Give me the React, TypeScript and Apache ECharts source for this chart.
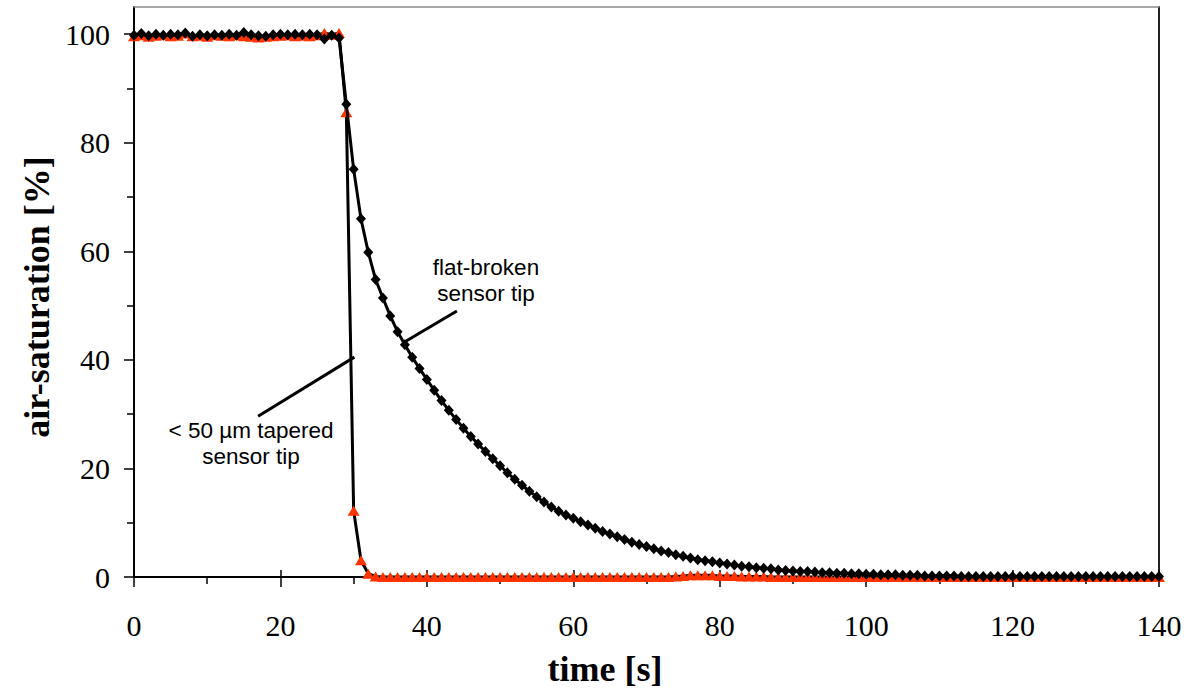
import React, { useEffect, useRef } from "react";
import * as echarts from "echarts";

const TIME = [
  0, 1, 2, 3, 4, 5, 6, 7, 8, 9,
  10, 11, 12, 13, 14, 15, 16, 17, 18, 19,
  20, 21, 22, 23, 24, 25, 26, 27, 28, 29,
  30, 31, 32, 33, 34, 35, 36, 37, 38, 39,
  40, 41, 42, 43, 44, 45, 46, 47, 48, 49,
  50, 51, 52, 53, 54, 55, 56, 57, 58, 59,
  60, 61, 62, 63, 64, 65, 66, 67, 68, 69,
  70, 71, 72, 73, 74, 75, 76, 77, 78, 79,
  80, 81, 82, 83, 84, 85, 86, 87, 88, 89,
  90, 91, 92, 93, 94, 95, 96, 97, 98, 99,
  100, 101, 102, 103, 104, 105, 106, 107, 108, 109,
  110, 111, 112, 113, 114, 115, 116, 117, 118, 119,
  120, 121, 122, 123, 124, 125, 126, 127, 128, 129,
  130, 131, 132, 133, 134, 135, 136, 137, 138, 139,
  140,
];

// flat-broken sensor tip (black diamonds)
const FLAT_BROKEN = [
  99.8, 100.1, 99.7, 100.0, 99.8, 100.0, 99.9, 100.2, 99.6, 99.9,
  99.7, 99.9, 99.8, 100.0, 99.8, 100.3, 99.9, 99.7, 99.6, 99.9,
  100.0, 99.9, 100.0, 99.9, 100.0, 99.9, 99.1, 99.8, 99.3, 87.1,
  75.1, 66.0, 59.8, 54.8, 51.4, 48.1, 45.2, 42.8, 40.5, 38.4,
  36.4, 34.4, 32.5, 30.7, 29.0, 27.4, 25.9, 24.5, 23.1, 21.8,
  20.5, 19.2, 18.0, 16.9, 15.8, 14.8, 13.8, 12.9, 12.1, 11.4,
  10.8, 10.2, 9.6, 9.0, 8.4, 7.9, 7.4, 6.9, 6.4, 6.0,
  5.6, 5.2, 4.8, 4.5, 4.1, 3.8, 3.5, 3.2, 3.0, 2.8,
  2.6, 2.4, 2.2, 2.0, 1.9, 1.7, 1.6, 1.5, 1.3, 1.2,
  1.1, 1.0, 1.0, 0.9, 0.8, 0.8, 0.7, 0.7, 0.6, 0.6,
  0.5, 0.5, 0.4, 0.4, 0.4, 0.3, 0.3, 0.3, 0.2, 0.2,
  0.2, 0.2, 0.2, 0.1, 0.1, 0.1, 0.1, 0.1, 0.1, 0.1,
  0.1, 0.1, 0.1, 0.1, 0.1, 0.1, 0.1, 0.1, 0.1, 0.1,
  0.1, 0.1, 0.1, 0.1, 0.1, 0.1, 0.1, 0.1, 0.1, 0.1,
  0.1,
];

// < 50 µm tapered sensor tip (red triangles)
const TAPERED = [
  99.6, 99.8, 99.5, 99.7, 99.9, 99.6, 99.7, 100.1, 99.6, 99.7,
  99.5, 99.8, 99.7, 99.6, 99.8, 99.6, 99.5, 99.4, 99.5, 99.6,
  99.7, 99.8, 99.6, 99.7, 99.6, 99.8, 100.2, 99.9, 100.2, 85.6,
  12.2, 3.1, 0.6, 0.1, 0, 0, 0, 0, 0, 0,
  0, 0, 0, 0, 0, 0, 0, 0, 0, 0,
  0, 0, 0, 0, 0, 0, 0, 0, 0, 0,
  0, 0, 0, 0, 0, 0, 0, 0, 0, 0,
  0, 0, 0, 0, 0.1, 0.2, 0.3, 0.3, 0.3, 0.3,
  0.2, 0.2, 0.2, 0.1, 0.1, 0.1, 0.1, 0, 0, 0,
  0, 0, 0, 0, 0, 0, 0, 0, 0, 0,
  0, 0, 0, 0, 0, 0, 0, 0, 0, 0,
  0, 0, 0, 0, 0, 0, 0, 0, 0, 0,
  0, 0, 0, 0, 0, 0, 0, 0, 0, 0,
  0, 0, 0, 0, 0, 0, 0, 0, 0, 0,
  0,
];

const Y_MAJOR = [0, 20, 40, 60, 80, 100];
const Y_MINOR = [10, 30, 50, 70, 90];

// annotation pointer lines (data coordinates)
const POINTER_TAPERED = [[16.95, 29.6], [30.1, 40.5]];
const POINTER_FLAT = [[36.95, 43.3], [44.1, 49.0]];

const SERIF = '"Liberation Serif", "Times New Roman", serif';
const SANS = '"Liberation Sans", Arial, sans-serif';

export default function App() {
  const ref = useRef<HTMLDivElement>(null);

  useEffect(() => {
    if (!ref.current) return;
    const chart = echarts.init(ref.current, null, { renderer: "svg" });

    const blackLine = { color: "#000", width: 2 };
    const hiddenAxisBase = {
      min: 0,
      splitLine: { show: false },
      axisLabel: { show: false },
    };
    const annoStyle = (text: string) => ({
      text,
      fontFamily: SANS,
      fontSize: 22.5,
      fill: "#000",
      align: "center",
      verticalAlign: "top",
    });

    const option = {
      animation: false,
      backgroundColor: "#fff",
      grid: { left: 134, right: 34, top: 7, bottom: 118, containLabel: false },
      xAxis: [
        {
          type: "value",
          min: 0,
          max: 140,
          interval: 20,
          position: "bottom",
          axisLine: { show: true, onZero: false, lineStyle: blackLine },
          axisTick: { show: true, length: 10, lineStyle: { color: "#000", width: 1.5 } },
          minorTick: { show: true, splitNumber: 2, length: 7, lineStyle: { color: "#000", width: 1.5 } },
          axisLabel: { fontFamily: SERIF, fontSize: 30, color: "#000", margin: 33 },
          splitLine: { show: false },
        },
        {
          ...hiddenAxisBase,
          type: "value",
          max: 140,
          interval: 20,
          position: "bottom",
          axisLine: { show: false, onZero: false },
          axisTick: { show: true, inside: true, length: 7, lineStyle: { color: "#000", width: 1.5 } },
        },
        {
          ...hiddenAxisBase,
          type: "value",
          max: 140,
          interval: 20,
          position: "top",
          axisLine: { show: true, onZero: false, lineStyle: { color: "#8a8a8a", width: 1.5 } },
          axisTick: { show: false },
        },
      ],
      yAxis: [
        {
          type: "value",
          min: 0,
          max: 105,
          interval: 20,
          position: "left",
          axisLine: { show: true, onZero: false, lineStyle: blackLine },
          axisTick: {
            show: true,
            length: 10,
            customValues: Y_MAJOR,
            lineStyle: { color: "#000", width: 1.5 },
          },
          axisLabel: {
            fontFamily: SERIF,
            fontSize: 30,
            color: "#000",
            margin: 24,
            customValues: Y_MAJOR,
          },
          splitLine: { show: false },
        },
        {
          ...hiddenAxisBase,
          type: "value",
          max: 105,
          interval: 20,
          position: "left",
          axisLine: { show: false, onZero: false },
          axisTick: {
            show: true,
            length: 7,
            customValues: Y_MINOR,
            lineStyle: { color: "#000", width: 1.5 },
          },
        },
        {
          ...hiddenAxisBase,
          type: "value",
          max: 105,
          interval: 20,
          position: "right",
          axisLine: { show: true, onZero: false, lineStyle: { color: "#222", width: 2 } },
          axisTick: { show: false },
        },
      ],
      series: [
        {
          name: "< 50 µm tapered sensor tip",
          type: "line",
          xAxisIndex: 0,
          yAxisIndex: 0,
          data: TIME.map((t, i) => [t, TAPERED[i]]),
          symbol: "triangle",
          symbolSize: [12, 10],
          showAllSymbol: true,
          itemStyle: { color: "#ff3300" },
          lineStyle: { color: "#000", width: 3 },
          z: 3,
        },
        {
          name: "flat-broken sensor tip",
          type: "line",
          xAxisIndex: 0,
          yAxisIndex: 0,
          data: TIME.map((t, i) => [t, FLAT_BROKEN[i]]),
          symbol: "diamond",
          symbolSize: [10, 11],
          showAllSymbol: true,
          itemStyle: { color: "#000" },
          lineStyle: { color: "#000", width: 3 },
          z: 4,
        },
        {
          type: "line",
          xAxisIndex: 0,
          yAxisIndex: 0,
          data: POINTER_TAPERED,
          symbol: "none",
          lineStyle: { color: "#000", width: 3 },
          silent: true,
          z: 5,
        },
        {
          type: "line",
          xAxisIndex: 0,
          yAxisIndex: 0,
          data: POINTER_FLAT,
          symbol: "none",
          lineStyle: { color: "#000", width: 3 },
          silent: true,
          z: 5,
        },
      ],
      graphic: [
        { type: "text", x: 486, y: 256, style: annoStyle("flat-broken") },
        { type: "text", x: 486, y: 282, style: annoStyle("sensor tip") },
        { type: "text", x: 251, y: 419, style: annoStyle("< 50 µm tapered") },
        { type: "text", x: 251, y: 445, style: annoStyle("sensor tip") },
        {
          type: "text",
          x: 605,
          y: 669,
          style: {
            text: "time [s]",
            fontFamily: SERIF,
            fontWeight: "bold",
            fontSize: 36,
            fill: "#000",
            align: "center",
            verticalAlign: "middle",
          },
        },
        {
          type: "text",
          x: 37,
          y: 297,
          rotation: Math.PI / 2,
          style: {
            text: "air-saturation [%]",
            fontFamily: SERIF,
            fontWeight: "bold",
            fontSize: 36,
            fill: "#000",
            align: "center",
            verticalAlign: "middle",
          },
        },
      ],
    };

    chart.setOption(option as any);
    return () => chart.dispose();
  }, []);

  return (
    <div
      ref={ref}
      style={{ position: "fixed", left: 0, top: 0, width: 1193, height: 695, background: "#fff" }}
    />
  );
}
